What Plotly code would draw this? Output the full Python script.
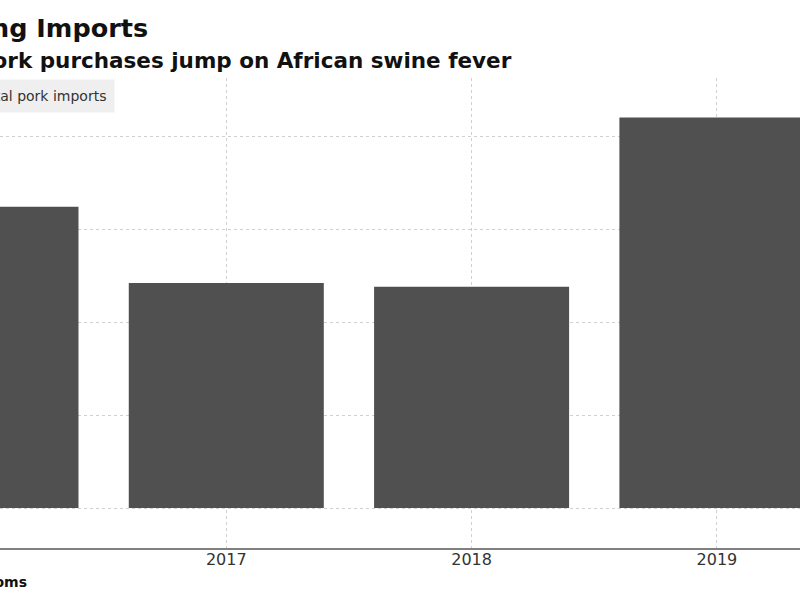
import plotly.graph_objects as go

years = [2016, 2017, 2018, 2019]
pork_imports = [1.62, 1.21, 1.19, 2.10]  # million metric tons
series_name = "Total pork imports"
title_text = "Surging Imports"
subtitle_text = "China's pork purchases jump on African swine fever"
source_text = "Source: China Customs"

W, H = 800, 600
TOP, BOT = 78, 548
PH = BOT - TOP


def py(pix):
    """paper y from pixel y"""
    return (BOT - pix) / PH


fig = go.Figure()
fig.add_trace(go.Bar(
    x=years, y=pork_imports, name=series_name,
    marker=dict(color="#505050", line=dict(width=0)),
    width=0.795, showlegend=False,
))

fig.update_layout(
    width=W, height=H,
    margin=dict(l=0, r=0, t=TOP, b=H - BOT, pad=0),
    paper_bgcolor="white", plot_bgcolor="white",
    font=dict(family="DejaVu Sans", color="#222"),
    showlegend=False,
    xaxis=dict(
        range=[2017 - 226 / 245, 2019 + 83 / 245],
        tickmode="array", tickvals=years, ticktext=[str(y) for y in years],
        showgrid=True, gridcolor="#d0d0d0", griddash="dot", gridwidth=1,
        showline=True, linecolor="#808080", linewidth=2,
        ticks="", tickfont=dict(size=16, color="#333"),
        ticklabelstandoff=-4,
        zeroline=False, automargin=False,
    ),
    yaxis=dict(
        range=[-40 / 186, 430 / 186],
        dtick=0.5, tick0=0,
        showgrid=True, gridcolor="#d0d0d0", griddash="dot", gridwidth=1,
        showticklabels=False, zeroline=False, showline=False, ticks="",
        automargin=False,
    ),
)

# legend box (partially off the left edge, as in the reference)
fig.add_annotation(
    text=series_name, xref="paper", yref="paper",
    x=115 / W, xanchor="right", y=py(96), yanchor="middle",
    showarrow=False, bgcolor="#efefef", borderpad=8,
    font=dict(size=14, color="#333", family="DejaVu Sans"),
)
fig.add_annotation(
    text="<b>" + title_text + "</b>", xref="paper", yref="paper",
    x=150 / W, xanchor="right", y=py(28), yanchor="middle",
    showarrow=False, font=dict(size=25.5, color="#111", family="DejaVu Sans"),
)
fig.add_annotation(
    text="<b>" + subtitle_text + "</b>", xref="paper", yref="paper",
    x=514 / W, xanchor="right", y=py(60), yanchor="middle",
    showarrow=False, font=dict(size=21.5, color="#111", family="DejaVu Sans"),
)
fig.add_annotation(
    text="<b>" + source_text + "</b>", xref="paper", yref="paper",
    x=29 / W, xanchor="right", y=py(582), yanchor="middle",
    showarrow=False, font=dict(size=14, color="#111", family="DejaVu Sans"),
)

fig.write_html(
    "out.html",
    config={"displayModeBar": False},
    post_script="document.body.style.margin='0';",
)
